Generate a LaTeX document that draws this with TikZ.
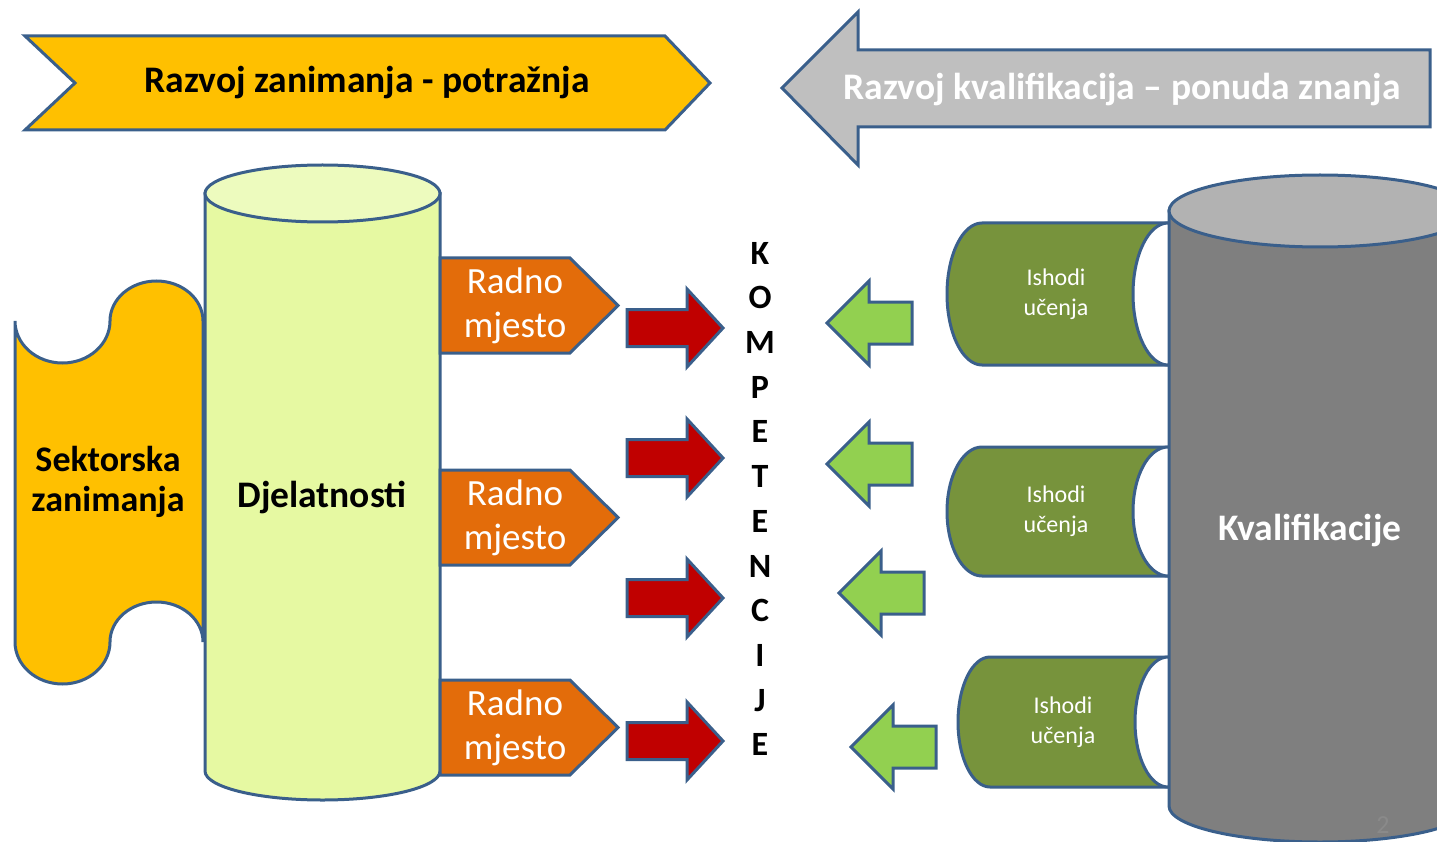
\documentclass[tikz,border=0pt]{standalone}
\usepackage{fontspec}
\setmainfont{Carlito}
\usetikzlibrary{calc}

\definecolor{rub}{HTML}{3A5F8B}
\definecolor{zuta}{HTML}{FFC000}
\definecolor{siva}{HTML}{BFBFBF}
\definecolor{svjetla}{HTML}{E6F9A2}
\definecolor{svjetlija}{HTML}{EDFBBE}
\definecolor{narancasta}{HTML}{E36C0A}
\definecolor{crvena}{HTML}{C00000}
\definecolor{zelena}{HTML}{92D050}
\definecolor{maslinasta}{HTML}{77933C}
\definecolor{tamnosiva}{HTML}{7F7F7F}
\definecolor{srednjesiva}{HTML}{B2B2B2}
\definecolor{brojsiva}{HTML}{8A8A8A}

\begin{document}
\begin{tikzpicture}[x=1pt, y=-1pt,
  outl/.style={draw=rub, line width=3pt},
  big/.style={font=\fontsize{37.5}{40}\selectfont\bfseries},
  rm/.style={text=white, align=center, font=\fontsize{37}{44}\selectfont},
  ish/.style={text=white, align=center, font=\fontsize{24}{29.5}\selectfont}]
\useasboundingbox (0,0) rectangle (1437,842);
\clip (0,0) rectangle (1437,842);

\coordinate (pot) at (25,36);
\coordinate (pon) at (782,88);
\coordinate (rm1) at (440,258);
\coordinate (rm2) at ($(rm1) + (0,212)$);
\coordinate (rm3) at ($(rm2) + (0,210)$);
\coordinate (crv1) at (723,328);
\coordinate (crv2) at ($(crv1) + (0,130)$);
\coordinate (crv3) at ($(crv2) + (0,140)$);
\coordinate (crv4) at ($(crv3) + (0,143)$);
\coordinate (zel1) at (827,323);
\coordinate (zel2) at ($(zel1) + (0,141)$);
\coordinate (zel3) at ($(zel2) + (12,129)$);
\coordinate (zel4) at ($(zel3) + (12,154)$);

% banners
\draw [outl, fill=zuta] (pot) -- ++(640,0) -- ++(45,47) -- ++(-45,47) -- ++(-640,0) -- ++(50,-47) -- cycle;
\node (potraznja) at (367,83) [big] {Razvoj zanimanja - potražnja};

\draw [outl, fill=siva] (pon) -- ++(76,-76) -- ++(0,38) -- ++(572,0) -- ++(0,77) -- ++(-572,0) -- ++(0,38) -- cycle;
\node (ponuda) at (1122,89) [big, text=white] {Razvoj kvalifikacija – ponuda znanja};

% sektorska zanimanja
\draw [outl, fill=zuta] (15,321) arc[start angle=180, end angle=0, x radius=47.5, y radius=42]
  arc[start angle=180, end angle=360, x radius=46.5, y radius=40] -- (203,642)
  arc[start angle=0, end angle=-180, x radius=46.5, y radius=40]
  arc[start angle=0, end angle=180, x radius=47.5, y radius=42] -- cycle;
\node (sekt) at (108,482) [big, align=center, font=\fontsize{36}{40}\selectfont\bfseries] {Sektorska\\zanimanja};

% djelatnosti
\draw [outl, fill=svjetla] (205,193.5) -- (205,771) arc[start angle=180, end angle=0, x radius=117.5, y radius=29] -- (440,193.5) -- cycle;
\draw [outl, fill=svjetlija] (322.5,193.5) ellipse [x radius=117.5, y radius=28.5];
\node (djel) at (322,497) [big] {Djelatnosti};

\draw [outl, fill=narancasta] (rm1) -- ++(130,0) -- ++(48,47.5) -- ++(-48,47.5) -- ++(-130,0) -- cycle;
\draw [outl, fill=narancasta] (rm2) -- ++(130,0) -- ++(48,47.5) -- ++(-48,47.5) -- ++(-130,0) -- cycle;
\draw [outl, fill=narancasta] (rm3) -- ++(130,0) -- ++(48,47.5) -- ++(-48,47.5) -- ++(-130,0) -- cycle;
\node (radno1) at ($(rm1) + (75,47.5)$) [rm] {Radno\\mjesto};
\node (radno2) at ($(rm2) + (75,47.5)$) [rm] {Radno\\mjesto};
\node (radno3) at ($(rm3) + (75,47.5)$) [rm] {Radno\\mjesto};

% red arrows
\draw [outl, fill=crvena] (crv1) -- ++(-36,-39) -- ++(0,20.5) -- ++(-60,0) -- ++(0,37) -- ++(60,0) -- ++(0,20.5) -- cycle;
\draw [outl, fill=crvena] (crv2) -- ++(-36,-39) -- ++(0,20.5) -- ++(-60,0) -- ++(0,37) -- ++(60,0) -- ++(0,20.5) -- cycle;
\draw [outl, fill=crvena] (crv3) -- ++(-36,-39) -- ++(0,20.5) -- ++(-60,0) -- ++(0,37) -- ++(60,0) -- ++(0,20.5) -- cycle;
\draw [outl, fill=crvena] (crv4) -- ++(-36,-39) -- ++(0,20.5) -- ++(-60,0) -- ++(0,37) -- ++(60,0) -- ++(0,20.5) -- cycle;

\node (komp) at (760,499) [align=center, font=\fontsize{34}{44.7}\selectfont\bfseries] {K\\O\\M\\P\\E\\T\\E\\N\\C\\I\\J\\E};

% green arrows
\draw [outl, fill=zelena] (zel1) -- ++(42,-42) -- ++(0,21) -- ++(43,0) -- ++(0,42) -- ++(-43,0) -- ++(0,21) -- cycle;
\draw [outl, fill=zelena] (zel2) -- ++(42,-42) -- ++(0,21) -- ++(43,0) -- ++(0,42) -- ++(-43,0) -- ++(0,21) -- cycle;
\draw [outl, fill=zelena] (zel3) -- ++(42,-42) -- ++(0,21) -- ++(43,0) -- ++(0,42) -- ++(-43,0) -- ++(0,21) -- cycle;
\draw [outl, fill=zelena] (zel4) -- ++(42,-42) -- ++(0,21) -- ++(43,0) -- ++(0,42) -- ++(-43,0) -- ++(0,21) -- cycle;

% ishodi ucenja
\draw [outl, fill=maslinasta] (1168,223) -- (982,223) arc[start angle=-90, end angle=-270, x radius=35, y radius=71] -- (1168,365) -- cycle;
\draw [outl, fill=white] (1168,294) ellipse [x radius=35, y radius=71];
\draw [outl, fill=maslinasta] (1168,447) -- (982,447) arc[start angle=-90, end angle=-270, x radius=35, y radius=64.5] -- (1168,576) -- cycle;
\draw [outl, fill=white] (1168,511.5) ellipse [x radius=35, y radius=64.5];
\draw [outl, fill=maslinasta] (1168,657) -- (990,657) arc[start angle=-90, end angle=-270, x radius=32, y radius=65] -- (1168,787) -- cycle;
\draw [outl, fill=white] (1168,722) ellipse [x radius=33, y radius=65];
\node (ish1) at (1056,294) [ish] {Ishodi\\učenja};
\node (ish2) at (1056,511) [ish] {Ishodi\\učenja};
\node (ish3) at (1063,722) [ish] {Ishodi\\učenja};

% kvalifikacije
\draw [outl, fill=tamnosiva] (1169,211) -- (1169,806) arc[start angle=180, end angle=0, x radius=151, y radius=36] -- (1471,211) -- cycle;
\draw [outl, fill=srednjesiva] (1320,211) ellipse [x radius=151, y radius=36];
\node (kval) at (1310,530) [big, text=white] {Kvalifikacije};
\node (broj) at (1383,825) [text=brojsiva, font=\fontsize{26}{30}\selectfont] {2};

\end{tikzpicture}
\end{document}
